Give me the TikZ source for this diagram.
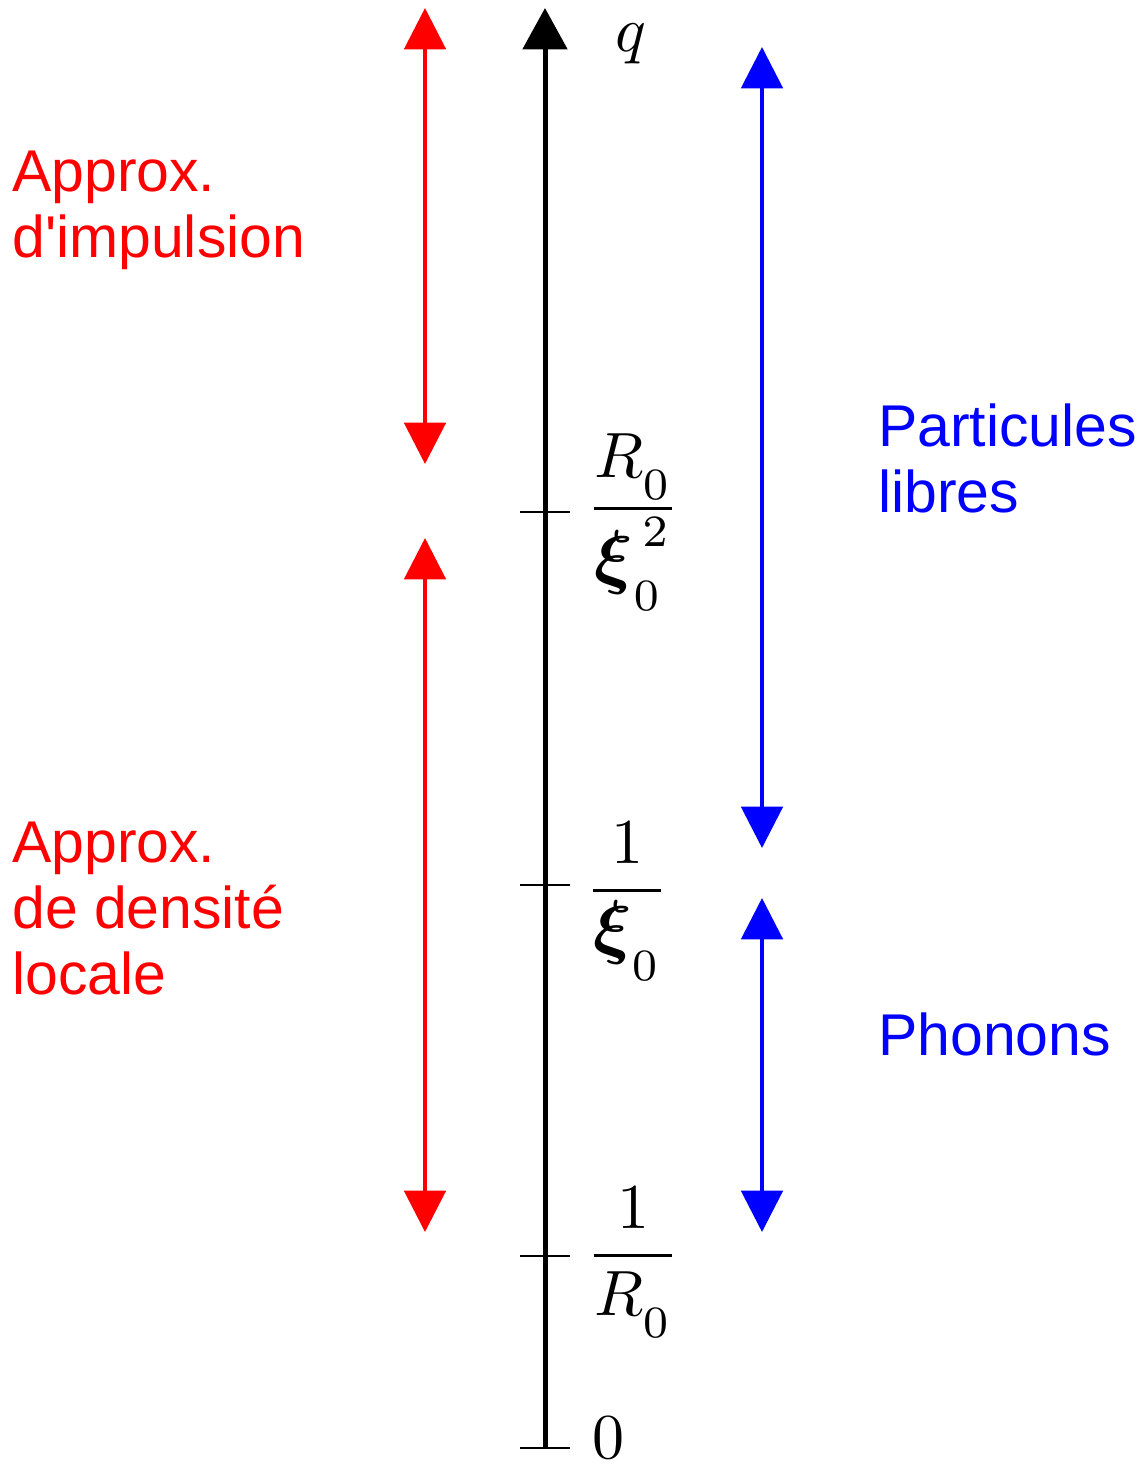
\documentclass[tikz,border=0pt]{standalone}
\usepackage{amsmath,amssymb,bm}
\usepackage{fontspec}
\newfontfamily\arialfont{Liberation Sans}
\usetikzlibrary{arrows.meta}
\newcommand{\zs}{_{\lower0.45ex\hbox{$\scriptstyle 0$}}}
\newcommand{\bxi}{\mathord{\scalebox{1.12}{$\bm{\xi}$}}}

\begin{document}
\begin{tikzpicture}[
  x=0.75pt, y=0.75pt,
  axe/.style={line width=3.75pt, -{Triangle[length=31pt, width=33pt]}},
  tick/.style={line width=1.5pt},
  dbl/.style={line width=3pt, {Triangle[length=31pt, width=31pt]}-{Triangle[length=31pt, width=31pt]}},
  lbl/.style={inner sep=0pt, scale=4.8},
  txt/.style={inner sep=0pt, anchor=north west, align=left, font=\arialfont\fontsize{44.2}{49.5}\selectfont}
]
\useasboundingbox (0,0) rectangle (1141,-1466);
% axe des q
\coordinate (o) at (545,-1448);
\coordinate (top) at (545,-8);
\draw[axe] (o) -- (top);
\foreach \y/\n in {-512/t1, -885/t2, -1256/t3, -1448/t4}{
  \coordinate (\n l) at (520,\y); \coordinate (\n r) at (570,\y);
  \draw[tick] (\n l) -- (\n r);
}
\node[lbl] (q) at (631,-44) {$q$};
\node[lbl] (f1) at (633,-522) {$\dfrac{R\zs}{\bxi\zs^{\,2}}$};
\node[lbl] (f2) at (627,-901) {$\dfrac{1}{\bxi\zs}$};
\node[lbl] (f3) at (633,-1262) {$\dfrac{1}{R\zs}$};
\node[lbl] (zero) at (608,-1438) {$0$};
% domaines de validite
\coordinate (r1a) at (425,-8);   \coordinate (r1b) at (425,-464);
\coordinate (r2a) at (425,-538); \coordinate (r2b) at (425,-1232);
\coordinate (b1a) at (762,-47);  \coordinate (b1b) at (762,-848);
\coordinate (b2a) at (762,-898); \coordinate (b2b) at (762,-1232);
\draw[dbl, red] (r1a) -- (r1b);
\draw[dbl, red] (r2a) -- (r2b);
\draw[dbl, blue] (b1a) -- (b1b);
\draw[dbl, blue] (b2a) -- (b2b);
\node[txt, red] (imp) at (12,-151) {Approx.\\d'impulsion};
\node[txt, red] (dens) at (12,-822) {Approx.\\de densit\'e\\locale};
\node[txt, blue] (part) at (878,-404) {Particules\\libres};
\node[txt, blue] (phon) at (878,-1013) {Phonons};
\end{tikzpicture}
\end{document}
